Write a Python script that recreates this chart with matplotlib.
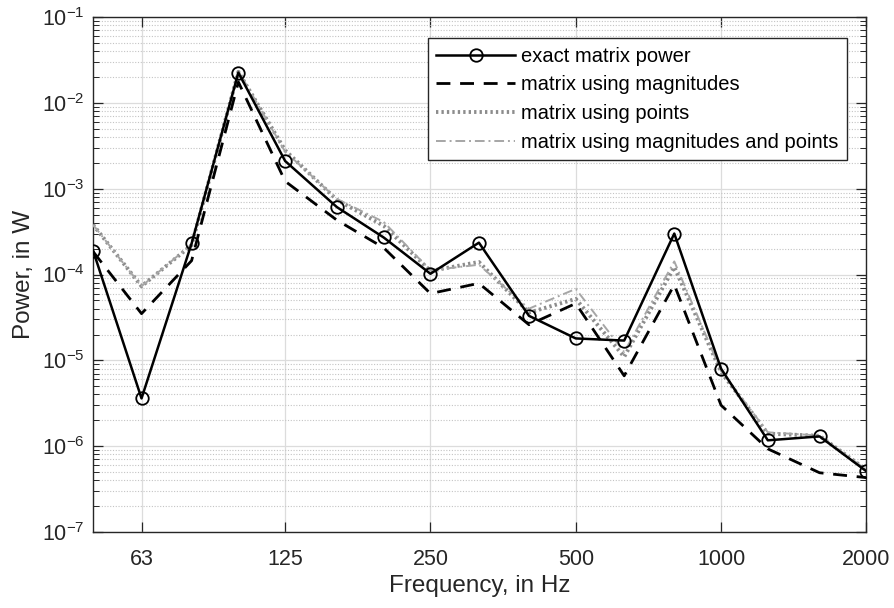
import matplotlib

matplotlib.use("Agg")
from matplotlib import pyplot as plt
from matplotlib import ticker

plt.rcParams["font.family"] = ["Liberation Sans", "DejaVu Sans"]
plt.rcParams["mathtext.fontset"] = "custom"
plt.rcParams["mathtext.rm"] = "Liberation Sans"

freqs = [50, 63, 80, 100, 125, 160, 200, 250, 315, 400, 500, 630, 800, 1000, 1250, 1600, 2000]
exact_power = [1.9e-4, 3.6e-6, 2.3e-4, 2.25e-2, 2.1e-3, 6.1e-4, 2.7e-4, 1.02e-4, 2.35e-4,
               3.3e-5, 1.8e-5, 1.7e-5, 3.0e-4, 8.0e-6, 1.17e-6, 1.3e-6, 5.1e-7]
magnitudes_power = [1.85e-4, 3.5e-5, 1.45e-4, 1.75e-2, 1.22e-3, 4.3e-4, 2.05e-4, 6.0e-5, 7.9e-5,
                    2.6e-5, 4.6e-5, 6.6e-6, 7.6e-5, 3.0e-6, 9.3e-7, 4.9e-7, 4.3e-7]
points_power = [3.8e-4, 7.3e-5, 2.2e-4, 2.3e-2, 2.8e-3, 7.4e-4, 3.7e-4, 1.1e-4, 1.4e-4,
                3.6e-5, 5.2e-5, 1.1e-5, 1.22e-4, 7.3e-6, 1.4e-6, 1.32e-6, 5.3e-7]
mag_points_power = [3.8e-4, 7.3e-5, 2.25e-4, 2.35e-2, 2.7e-3, 7.6e-4, 4.1e-4, 1.12e-4, 1.3e-4,
                    4.0e-5, 6.8e-5, 1.25e-5, 1.42e-4, 7.5e-6, 1.45e-6, 1.33e-6, 5.3e-7]
tick_freqs = [63, 125, 250, 500, 1000, 2000]

fig = plt.figure(figsize=(8.95, 6.08), dpi=100)
fig.patch.set_facecolor("white")
ax = fig.add_axes([0.104, 0.125, 0.864, 0.847])

ax.plot(freqs, exact_power, color="black", linewidth=1.8, marker="o", markersize=9,
        markerfacecolor="none", markeredgewidth=1.3, label="exact matrix power", zorder=5)
ax.plot(freqs, magnitudes_power, color="black", linewidth=2.0, linestyle=(0, (5, 3.5)),
        label="matrix using magnitudes", zorder=4)
ax.plot(freqs, points_power, color="#8c8c8c", linewidth=2.8, linestyle=(0, (0.6, 0.8)),
        label="matrix using points", zorder=3)
ax.plot(freqs, mag_points_power, color="#a6a6a6", linewidth=1.4, linestyle=(0, (5, 2, 1, 2)),
        label="matrix using magnitudes and points", zorder=3)

ax.set_xscale("log")
ax.set_yscale("log")
ax.set_xlim(50, 2000)
ax.set_ylim(1e-7, 1e-1)
ax.xaxis.set_major_locator(ticker.FixedLocator(tick_freqs))
ax.xaxis.set_major_formatter(ticker.FixedFormatter([str(f) for f in tick_freqs]))
ax.xaxis.set_minor_locator(ticker.NullLocator())
ax.yaxis.set_major_locator(ticker.LogLocator(base=10, numticks=10))
ax.yaxis.set_minor_locator(ticker.LogLocator(base=10, subs=range(2, 10), numticks=10))
ax.yaxis.set_minor_formatter(ticker.NullFormatter())

ax.tick_params(axis="both", which="both", direction="in", top=True, right=True,
               colors="#262626", labelsize=15.5)
ax.tick_params(axis="both", which="major", length=7, width=0.9)
ax.tick_params(axis="y", which="minor", length=4, width=0.7)
ax.tick_params(axis="x", pad=12)
ax.tick_params(axis="y", pad=6)

ax.grid(which="major", color="#dcdcdc", linewidth=0.9, linestyle="-")
ax.grid(which="minor", axis="y", color="#c4c4c4", linewidth=0.8, linestyle=(0, (1, 1.5)))
ax.set_axisbelow(True)
for spine in ax.spines.values():
    spine.set_color("#262626")
    spine.set_linewidth(1.0)

ax.set_xlabel("Frequency, in Hz", fontsize=17.5, color="#262626", labelpad=4)
ax.set_ylabel("Power, in W", fontsize=17.5, color="#262626", labelpad=5)

legend = ax.legend(loc="upper right", bbox_to_anchor=(0.946, 0.937), bbox_transform=fig.transFigure,
                   fontsize=14.5, frameon=True, fancybox=False, framealpha=1, edgecolor="#262626",
                   handlelength=3.9, handletextpad=0.3, labelspacing=0.48, borderpad=0.42,
                   numpoints=1, borderaxespad=0)
legend.get_frame().set_linewidth(1.0)

fig.savefig("out.png", dpi=100)
plt.close(fig)
